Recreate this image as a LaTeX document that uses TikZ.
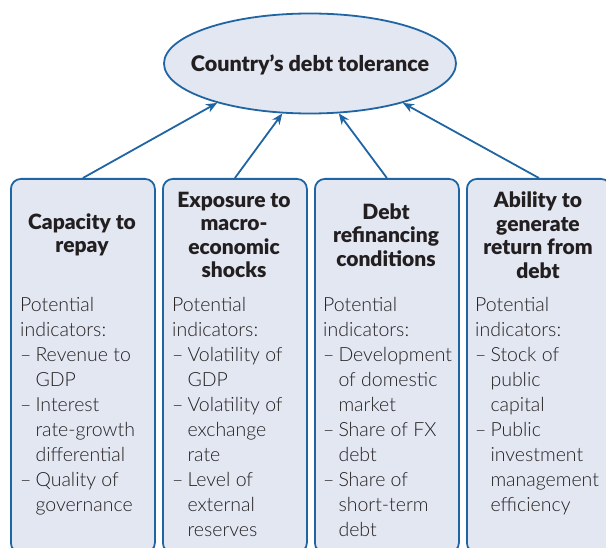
\documentclass[tikz,border=0pt]{standalone}
\usepackage{fontspec}
\setmainfont{Lato Light}[BoldFont={Lato Black}]
\usetikzlibrary{shapes.geometric,arrows.meta}
\definecolor{boxfill}{HTML}{E2E7F2}
\definecolor{boxline}{HTML}{1F65A3}
\definecolor{txt}{HTML}{231F20}
\newcommand\itm{–\hspace{4pt}}
\newcommand\dd{\hphantom{–}\hspace{4pt}}
\newcommand\fst{\rule{0pt}{16pt}}
\begin{document}
\begin{tikzpicture}[x=1pt,y=-1pt,
  frame/.style={draw=boxline, fill=boxfill, line width=1.8pt, rounded corners=10pt,
    minimum width=144pt, minimum height=374pt, anchor=north west, inner sep=0pt},
  ttl/.style={font=\bfseries\fontsize{21}{23.5}\selectfont, align=center, text=txt, inner sep=0pt},
  body/.style={font=\fontsize{19.5}{25}\selectfont, align=left, anchor=north west, text=txt, inner sep=0pt},
  arr/.style={draw=boxline, line width=1.8pt, -{Stealth[length=11pt,width=9pt]}}]
\useasboundingbox (0,0) rectangle (606,548);
\clip (0,0) rectangle (606,548);
\node[ellipse, draw=boxline, fill=boxfill, line width=1.8pt, minimum width=292pt, minimum height=100pt,
  inner sep=0pt] (top) at (310,63.5) {};
\node[font=\bfseries\fontsize{21.5}{24}\selectfont, text=txt, inner sep=0pt, anchor=base] (toptext) at (310,71.5) {Country’s debt tolerance};
\node[frame] (b1) at (10,178) {};
\node[frame] (b2) at (162,178) {};
\node[frame] (b3) at (314,178) {};
\node[frame] (b4) at (466,178) {};
\node[ttl] (t1) at (82,235) {Capacity to\\repay};
\node[ttl] (t2) at (234,235) {Exposure to\\macro-\\economic\\shocks};
\node[ttl] (t3) at (386,235) {Debt\\refinancing\\conditions};
\node[ttl] (t4) at (538,235) {Ability to\\generate\\return from\\debt};
\node[body] (p1) at (20,295) {\fst Potential\\indicators:\\\itm Revenue to\\\dd GDP\\\itm Interest\\\dd rate-growth\\\dd differential\\\itm Quality of\\\dd governance};
\node[body] (p2) at (172,295) {\fst Potential\\indicators:\\\itm Volatility of\\\dd GDP\\\itm Volatility of\\\dd exchange\\\dd rate\\\itm Level of\\\dd external\\\dd reserves};
\node[body] (p3) at (323,295) {\fst Potential\\indicators:\\\itm Development\\\dd of domestic\\\dd market\\\itm Share of FX\\\dd debt\\\itm Share of\\\dd short-term\\\dd debt};
\node[body] (p4) at (475,295) {\fst Potential\\indicators:\\\itm Stock of\\\dd public\\\dd capital\\\itm Public\\\dd investment\\\dd management\\\dd efficiency};
\draw[arr] (b1.north) -- (top.203);
\draw[arr] (b2.north) -- (top.241);
\draw[arr] (b3.north) -- (top.300);
\draw[arr] (b4.north) -- (top.337);
\end{tikzpicture}
\end{document}
